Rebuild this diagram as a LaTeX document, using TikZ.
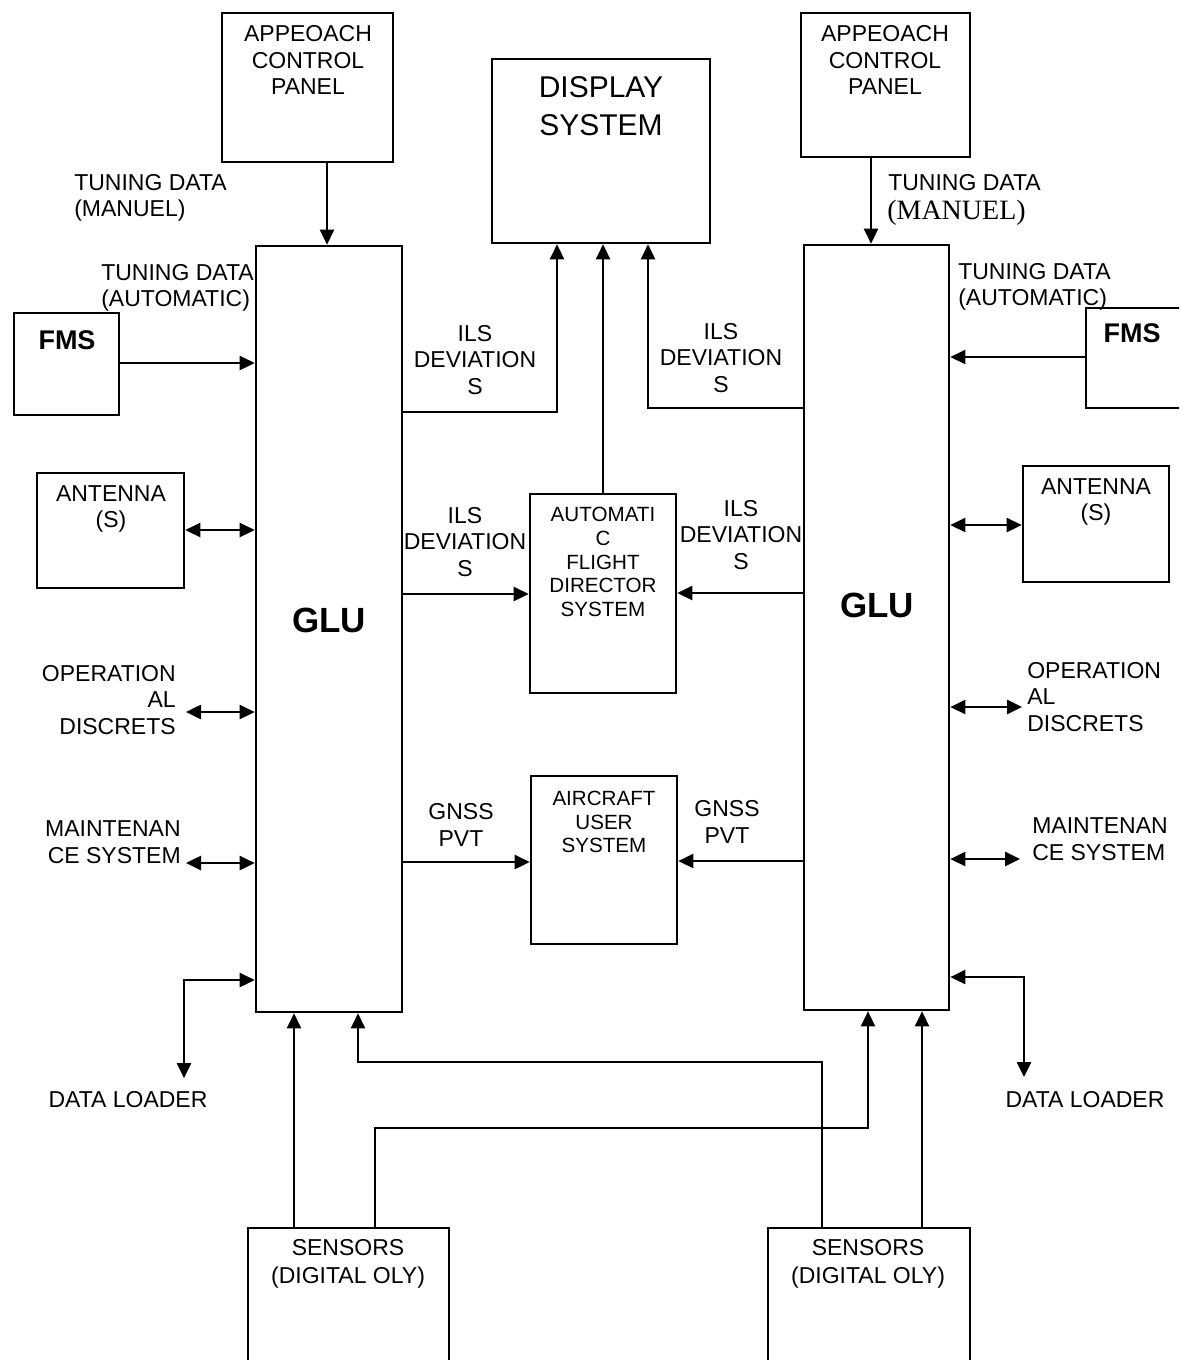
\documentclass[tikz,border=0pt]{standalone}
\usepackage{fontspec}
\setmainfont{Liberation Sans}
\newfontfamily\timesf{Liberation Serif}
\usetikzlibrary{arrows.meta,fit,calc}
\begin{document}
\begin{tikzpicture}[x=0.5pt,y=-0.5pt, line width=1.3pt,
  box/.style={draw, inner sep=0pt, line width=1.3pt},
  arr/.style={-{Triangle[length=7.5pt,width=7pt]}},
  dbl/.style={{Triangle[length=7.5pt,width=7pt]}-{Triangle[length=7.5pt,width=7pt]}},
  lbl/.style={inner sep=0pt, align=center, font=\fontsize{11.5pt}{13.3pt}\selectfont},
  lbll/.style={inner sep=0pt, align=left, anchor=west, font=\fontsize{11.5pt}{13.3pt}\selectfont},
  lblr/.style={inner sep=0pt, align=right, anchor=east, font=\fontsize{11.5pt}{13.3pt}\selectfont},
  small/.style={inner sep=0pt, align=center, font=\fontsize{10.3pt}{11.8pt}\selectfont},
  big/.style={inner sep=0pt, align=center, font=\fontsize{15pt}{19pt}\selectfont},
  glu/.style={inner sep=0pt, font=\fontsize{17.5pt}{20pt}\selectfont\bfseries},
  fms/.style={inner sep=0pt, font=\fontsize{13.5pt}{16pt}\selectfont\bfseries}]
\useasboundingbox (0,0) rectangle (1179,1360);
\clip (0,0) rectangle (1179,1360);

% boxes
\node[box, fit={(222,13) (393,162)}] (acpL) {};
\node[box, fit={(801,13) (970,157)}] (acpR) {};
\node[box, fit={(492,59) (710,243)}] (disp) {};
\node[box, fit={(256,246) (402,1012)}] (gluL) {};
\node[box, fit={(804,245) (949,1010)}] (gluR) {};
\node[box, fit={(14,313) (119,415)}] (fmsL) {};
\node[box, fit={(1086,308) (1220,408)}] (fmsR) {};
\node[box, fit={(37,473) (184,588)}] (antL) {};
\node[box, fit={(1023,466) (1169,582)}] (antR) {};
\node[box, fit={(530,494) (676,693)}] (afds) {};
\node[box, fit={(531,776) (677,944)}] (aus) {};
\node[box, fit={(248,1228) (449,1400)}] (senL) {};
\node[box, fit={(768,1228) (970,1400)}] (senR) {};

% box texts
\node[lbl] (tacpL) at (308,60) {APPEOACH\\CONTROL\\PANEL};
\node[lbl] (tacpR) at (885,60) {APPEOACH\\CONTROL\\PANEL};
\node[big] (tdisp) at (601,106) {DISPLAY\\SYSTEM};
\node[glu] (tgluL) at (329,620) {GLU};
\node[glu] (tgluR) at (877,605) {GLU};
\node[fms] (tfmsL) at (67,340) {FMS};
\node[fms] (tfmsR) at (1132,333) {FMS};
\node[lbl] (tantL) at (111,509) {ANTENNA\\(S)};
\node[lbl] (tantR) at (1096,502) {ANTENNA\\(S)};
\node[small] (tafds) at (603,562) {AUTOMATI\\C\\FLIGHT\\DIRECTOR\\SYSTEM};
\node[small] (taus) at (604,822) {AIRCRAFT\\USER\\SYSTEM};
\node[lbl, font=\fontsize{11.5pt}{14pt}\selectfont] (tsenL) at (348,1264) {SENSORS\\(DIGITAL OLY)};
\node[lbl, font=\fontsize{11.5pt}{14pt}\selectfont] (tsenR) at (868,1264) {SENSORS\\(DIGITAL OLY)};

% connectors
\coordinate (xa) at (327,0);
\draw[arr] (acpL.south -| xa) -- (gluL.north -| xa);
\coordinate (xb) at (871,0);
\draw[arr] (acpR.south -| xb) -- (gluR.north -| xb);
\coordinate (ya) at (0,363);
\draw[arr] (fmsL.east |- ya) -- (gluL.west |- ya);
\coordinate (yb) at (0,357);
\draw[arr] (fmsR.west |- yb) -- (gluR.east |- yb);
\coordinate (p1) at (557,412);
\draw[arr] (gluL.east |- p1) -| (disp.south -| p1);
\coordinate (p2) at (648,408);
\draw[arr] (gluR.west |- p2) -| (disp.south -| p2);
\draw[arr] (afds.north) -- (disp.south -| afds.north);
\coordinate (yc) at (0,594);
\draw[arr] (gluL.east |- yc) -- (afds.west |- yc);
\coordinate (yd) at (0,593);
\draw[arr] (gluR.west |- yd) -- (afds.east |- yd);
\coordinate (ye) at (0,862);
\draw[arr] (gluL.east |- ye) -- (aus.west |- ye);
\coordinate (yf) at (0,861);
\draw[arr] (gluR.west |- yf) -- (aus.east |- yf);
\coordinate (yg) at (0,530);
\draw[dbl] (antL.east |- yg) -- (gluL.west |- yg);
\coordinate (yh) at (0,525);
\draw[dbl] (gluR.east |- yh) -- (antR.west |- yh);
\coordinate (opL) at (186,712);
\draw[dbl] (opL) -- (gluL.west |- opL);
\coordinate (opR) at (1022,707);
\draw[dbl] (gluR.east |- opR) -- (opR);
\coordinate (mnL) at (186,863);
\draw[dbl] (mnL) -- (gluL.west |- mnL);
\coordinate (mnR) at (1020,859);
\draw[dbl] (gluR.east |- mnR) -- (mnR);
\coordinate (dlL) at (184,1078);
\coordinate (dlLy) at (0,980);
\draw[dbl] (dlL) |- (gluL.west |- dlLy);
\coordinate (dlR) at (1024,1077);
\coordinate (dlRy) at (0,977);
\draw[dbl] (dlR) |- (gluR.east |- dlRy);
\coordinate (xs1) at (294,0);
\draw[arr] (senL.north -| xs1) -- (gluL.south -| xs1);
\coordinate (q1) at (822,1062);
\coordinate (q2) at (358,1062);
\draw[arr] (senR.north -| q1) -- (q1) -- (q2) -- (gluL.south -| q2);
\coordinate (q3) at (375,1128);
\coordinate (q4) at (868,1128);
\draw[arr] (senL.north -| q3) -- (q3) -- (q4) -- (gluR.south -| q4);
\coordinate (xs2) at (922,0);
\draw[arr] (senR.north -| xs2) -- (gluR.south -| xs2);

% connector labels
\node[lbll] (tdmL) at (73,198) {TUNING DATA\\(MANUEL)};
\node[lbll] (tdaL) at (100,288) {TUNING DATA\\(AUTOMATIC)};
\node[lbll] (tdmR1) at (887,183) {TUNING DATA};
\node[inner sep=0pt, anchor=west, font=\timesf\fontsize{14pt}{16pt}\selectfont] (tdmR2) at (886,213) {(MANUEL)};
\node[lbll] (tdaR) at (957,287) {TUNING DATA\\(AUTOMATIC)};
\node[lbl] (ils1) at (475,360) {ILS\\DEVIATION\\S};
\node[lbl] (ils2) at (721,358) {ILS\\DEVIATION\\S};
\node[lbl] (ils3) at (465,542) {ILS\\DEVIATION\\S};
\node[lbl] (ils4) at (741,535) {ILS\\DEVIATION\\S};
\node[lbl] (gnss1) at (461,825) {GNSS\\PVT};
\node[lbl] (gnss2) at (727,822) {GNSS\\PVT};
\node[lblr] (opdL) at (177,700) {OPERATION\\AL\\DISCRETS};
\node[lbll] (opdR) at (1026,697) {OPERATION\\AL\\DISCRETS};
\node[lblr] (mntL) at (182,842) {MAINTENAN\\CE SYSTEM};
\node[lbll] (mntR) at (1031,839) {MAINTENAN\\CE SYSTEM};
\node[lbl] (dlLt) at (128,1100) {DATA LOADER};
\node[lbl] (dlRt) at (1085,1100) {DATA LOADER};
\end{tikzpicture}
\end{document}
